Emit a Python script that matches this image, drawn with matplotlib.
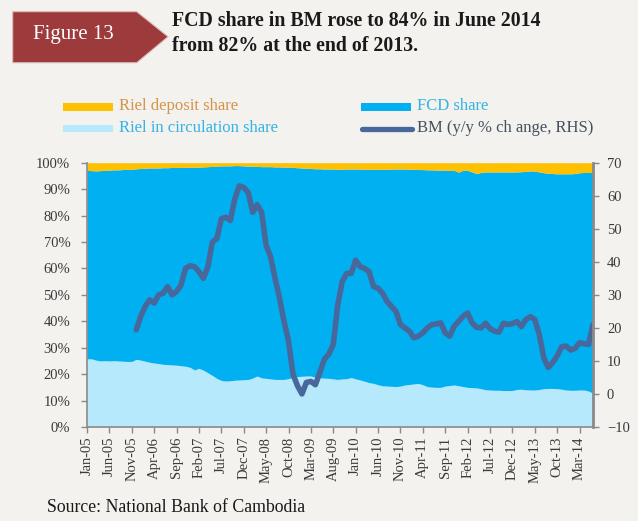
import numpy as np
import matplotlib
matplotlib.use("Agg")
import matplotlib.pyplot as plt
from matplotlib.patches import Polygon, Rectangle
from matplotlib.lines import Line2D

# ---------------- data ----------------
months = ["Jan-05", "Jun-05", "Nov-05", "Apr-06", "Sep-06", "Feb-07", "Jul-07", "Dec-07",
          "May-08", "Oct-08", "Mar-09", "Aug-09", "Jan-10", "Jun-10", "Nov-10", "Apr-11",
          "Sep-11", "Feb-12", "Jul-12", "Dec-12", "May-13", "Oct-13", "Mar-14"]

# Riel in circulation share (%), monthly Jan-05 .. Jun-14
riel_circ = [25.8, 25.8, 25.3, 25.0, 25.1, 25.0, 25.1, 25.0, 24.9, 24.8,
             24.8, 25.6, 25.3, 24.9, 24.5, 24.2, 24.0, 23.7, 23.6, 23.5,
             23.4, 23.2, 23.0, 22.6, 21.6, 22.2, 21.5, 20.5, 19.5, 18.4,
             17.6, 17.4, 17.5, 17.7, 17.8, 17.9, 18.0, 18.5, 19.3, 18.6,
             18.4, 18.2, 18.0, 18.0, 18.0, 18.3, 18.7, 19.1, 19.2, 19.3,
             19.3, 18.8, 18.6, 18.5, 18.4, 18.2, 18.0, 18.2, 18.3, 18.7,
             18.2, 17.8, 17.3, 16.8, 16.5, 16.0, 15.6, 15.5, 15.4, 15.3,
             15.5, 15.9, 16.1, 16.3, 16.5, 16.0, 15.3, 15.1, 15.0, 15.0,
             15.5, 15.7, 15.9, 15.6, 15.3, 15.0, 14.9, 14.8, 14.5, 14.1,
             14.0, 13.9, 13.9, 13.8, 13.8, 13.8, 14.2, 14.3, 14.1, 14.0,
             14.0, 14.2, 14.5, 14.6, 14.6, 14.5, 14.3, 14.0, 13.9, 13.9,
             14.0, 14.0, 13.6, 12.8]

# Riel deposit share (%)
riel_dep = [2.9, 3.0, 3.1, 3.0, 2.9, 2.8, 2.7, 2.7, 2.6, 2.5,
            2.5, 2.3, 2.2, 2.1, 2.0, 2.0, 2.0, 1.9, 1.9, 1.8,
            1.8, 1.8, 1.7, 1.7, 1.7, 1.7, 1.6, 1.5, 1.4, 1.3,
            1.2, 1.2, 1.2, 1.1, 1.1, 1.2, 1.3, 1.3, 1.4, 1.5,
            1.5, 1.5, 1.6, 1.6, 1.7, 1.7, 1.8, 1.9, 2.0, 2.1,
            2.2, 2.3, 2.3, 2.4, 2.4, 2.4, 2.5, 2.5, 2.4, 2.4,
            2.4, 2.4, 2.5, 2.5, 2.5, 2.5, 2.5, 2.5, 2.4, 2.4,
            2.4, 2.4, 2.5, 2.5, 2.6, 2.6, 2.7, 2.7, 2.8, 2.8,
            2.8, 2.9, 2.9, 3.6, 2.8, 2.9, 3.5, 4.1, 3.7, 3.5,
            3.5, 3.5, 3.5, 3.5, 3.5, 3.5, 3.5, 3.4, 3.3, 3.1,
            3.2, 3.5, 3.8, 4.0, 4.1, 4.2, 4.2, 4.2, 4.2, 4.1,
            3.8, 3.7, 3.7, 3.7]

# FCD share (%) = remainder
fcd_share = [100 - a - b for a, b in zip(riel_circ, riel_dep)]

# BM growth (y/y %), starts Dec-05 (index 11)
bm_start = 11
bm_growth = [19.4, 23.5, 26.5, 28.5, 27.5, 30.0, 30.5, 32.5, 30.0, 31.0,
             33.0, 38.0, 38.8, 38.5, 37.0, 35.0, 38.5, 46.0, 47.0, 53.0,
             53.5, 52.5, 59.0, 63.0, 62.5, 61.0, 55.0, 57.3, 55.0, 45.0,
             41.5, 35.0, 29.0, 22.0, 16.0, 6.0, 2.5, 0.0, 3.5, 3.8,
             2.8, 6.5, 10.5, 12.0, 15.0, 27.0, 34.0, 36.5, 36.5, 40.5,
             38.5, 38.0, 37.0, 32.5, 32.0, 30.5, 28.0, 26.5, 25.0, 21.0,
             20.0, 19.0, 17.0, 17.5, 18.5, 20.0, 21.0, 21.2, 21.5, 18.5,
             17.5, 20.5, 22.0, 23.5, 24.5, 21.5, 20.2, 20.0, 21.4, 19.8,
             19.0, 18.7, 21.4, 21.0, 21.3, 21.9, 20.4, 22.5, 23.4, 22.5,
             18.0, 11.0, 8.0, 9.5, 11.5, 14.3, 14.5, 13.3, 13.8, 15.5,
             15.2, 15.0, 21.0]

left_ticks = [0, 10, 20, 30, 40, 50, 60, 70, 80, 90, 100]
right_ticks = [-10, 0, 10, 20, 30, 40, 50, 60, 70]

# ---------------- style ----------------
BG = "#f3f2ee"
C_CIRC = "#b7e9fc"
C_FCD = "#00b0f0"
C_DEP = "#ffc000"
C_BM = "#48689c"
SERIF = ["Liberation Serif", "DejaVu Serif"]
plt.rcParams["font.family"] = SERIF

W, H = 638, 521
fig = plt.figure(figsize=(W / 100, H / 100), dpi=100, facecolor=BG)

def fx(px):
    return px / W

def fy(py):
    return 1 - py / H

ax = fig.add_axes([fx(87), fy(427), fx(593) - fx(87), fy(162.7) - fy(427)])
ax.set_facecolor(BG)

x = np.arange(len(riel_circ))
y1 = np.array(riel_circ)
y2 = y1 + np.array(fcd_share)
y3 = y2 + np.array(riel_dep)
ax.fill_between(x, 0, y1, color=C_CIRC, lw=0)
ax.fill_between(x, y1, y2, color=C_FCD, lw=0)
ax.fill_between(x, y2, y3, color=C_DEP, lw=0)
ax.set_xlim(0, len(x) - 1)
ax.set_ylim(0, 100)
ax.set_yticks(left_ticks)
ax.set_yticklabels([f"{t}%" for t in left_ticks])

tick_idx = [i * 5 for i in range(len(months))]
ax.set_xticks(tick_idx)
ax.set_xticklabels(months, rotation=90)

for s in ["top", "right"]:
    ax.spines[s].set_visible(False)
ax.spines["left"].set_color("#8a8a8a")
ax.spines["left"].set_linewidth(1.2)
ax.spines["bottom"].set_color("#8a8a8a")
ax.spines["bottom"].set_linewidth(1.2)
ax.tick_params(axis="both", direction="out", length=4, width=1, color="#8a8a8a",
               labelsize=10.5, labelcolor="#3a3a3a")
ax.tick_params(axis="y", pad=8)
ax.tick_params(axis="x", pad=3)

ax2 = ax.twinx()
bx = np.arange(bm_start, bm_start + len(bm_growth))
ax2.plot(bx, bm_growth, color=C_BM, lw=4, solid_capstyle="round", solid_joinstyle="round")
ax2.set_ylim(-10, 70)
ax2.set_yticks(right_ticks)
for s in ["top", "left", "bottom"]:
    ax2.spines[s].set_visible(False)
ax2.spines["right"].set_color("#8a8a8a")
ax2.spines["right"].set_linewidth(2)
ax2.tick_params(axis="y", direction="out", length=4, width=1, color="#8a8a8a",
                labelsize=10.5, labelcolor="#3a3a3a", pad=6)

# ---------------- header ----------------
box = Polygon([(fx(12.7), fy(11.7)), (fx(136.7), fy(11.7)), (fx(168), fy(36.7)),
               (fx(136.7), fy(62.7)), (fx(12.7), fy(62.7))], closed=True,
              transform=fig.transFigure, facecolor="#9d3a3b", edgecolor="#d9b8b5", lw=0.8)
fig.patches.append(box)
fig.text(fx(73), fy(34), "Figure 13", color="white", fontsize=15, ha="center", va="center")
fig.text(fx(172), fy(21), "FCD share in BM rose to 84% in June 2014", fontsize=14.3,
         fontweight="bold", color="#1a1a1a", ha="left", va="center")
fig.text(fx(172), fy(46), "from 82% at the end of 2013.", fontsize=14.3,
         fontweight="bold", color="#1a1a1a", ha="left", va="center")

# ---------------- legend ----------------
fig.patches.append(Rectangle((fx(63), fy(110.5)), fx(113) - fx(63), fy(103.5) - fy(110.5),
                             transform=fig.transFigure, color=C_DEP, lw=0))
fig.patches.append(Rectangle((fx(63), fy(132)), fx(113) - fx(63), fy(125) - fy(132),
                             transform=fig.transFigure, color=C_CIRC, lw=0))
fig.patches.append(Rectangle((fx(361), fy(110.5)), fx(411) - fx(361), fy(103.5) - fy(110.5),
                             transform=fig.transFigure, color=C_FCD, lw=0))
fig.lines.append(Line2D([fx(362), fx(412)], [fy(128.5), fy(128.5)], transform=fig.transFigure,
                        color=C_BM, lw=3.8, solid_capstyle="round"))
fig.text(fx(119), fy(106), "Riel deposit share", fontsize=12, color="#d4944a", va="center")
fig.text(fx(119), fy(127.5), "Riel in circulation share", fontsize=12, color="#35b3e3", va="center")
fig.text(fx(417), fy(106), "FCD share", fontsize=12, color="#35b3e3", va="center")
fig.text(fx(417), fy(127.5), "BM (y/y % ch ange, RHS)", fontsize=12, color="#45505e", va="center")

fig.text(fx(47), fy(508), "Source: National Bank of Cambodia", fontsize=12.8, color="#1a1a1a",
         va="center")

fig.savefig("out.png", dpi=100, facecolor=BG)
